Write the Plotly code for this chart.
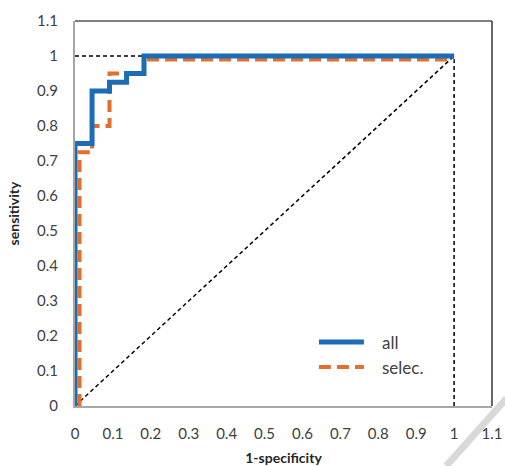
import plotly.graph_objects as go

# ROC curve data (1-specificity, sensitivity)
all_x = [0, 0, 0.045, 0.045, 0.091, 0.091, 0.136, 0.136, 0.182, 0.182, 1.0]
all_y = [0, 0.75, 0.75, 0.90, 0.90, 0.925, 0.925, 0.95, 0.95, 1.0, 1.0]

selec_x = [0.012, 0.012, 0.045, 0.045, 0.091, 0.091, 0.182, 0.182, 1.0]
selec_y = [0, 0.725, 0.725, 0.80, 0.80, 0.95, 0.95, 0.99, 0.99]

# reference lines
diag_x = [0, 1]
diag_y = [0, 1]
top_ref_x = [0, 1]
top_ref_y = [1, 1]
right_ref_x = [1, 1]
right_ref_y = [0, 1]

tick_vals = [round(i * 0.1, 1) for i in range(12)]
tick_text = ["0", "0.1", "0.2", "0.3", "0.4", "0.5", "0.6", "0.7", "0.8", "0.9", "1", "1.1"]

fig = go.Figure()

for rx, ry in [(diag_x, diag_y), (top_ref_x, top_ref_y), (right_ref_x, right_ref_y)]:
    fig.add_trace(go.Scatter(x=rx, y=ry, mode="lines", showlegend=False,
                             line=dict(color="black", width=1.5, dash="4px,3px"),
                             hoverinfo="skip"))

fig.add_trace(go.Scatter(x=selec_x, y=selec_y, mode="lines", name="\u00a0\u00a0\u00a0selec.",
                         line=dict(color="#e2702b", width=4, dash="12px,6px")))
fig.add_trace(go.Scatter(x=all_x, y=all_y, mode="lines", name="\u00a0\u00a0\u00a0all",
                         line=dict(color="#1d6db6", width=5)))

font_family = "Lato, 'Open Sans', sans-serif"

fig.update_layout(
    width=505, height=466,
    margin=dict(l=75, r=13, t=21, b=60, autoexpand=False),
    paper_bgcolor="white", plot_bgcolor="white",
    font=dict(family=font_family, size=15, color="#404040"),
    legend=dict(x=0.573, y=0.212, xanchor="left", yanchor="top",
                traceorder="reversed", bgcolor="rgba(0,0,0,0)",
                font=dict(size=17, color="#404040"), itemwidth=45),
    xaxis=dict(range=[0, 1.1], tickvals=tick_vals, ticktext=tick_text,
               showgrid=False, zeroline=False, showline=True, automargin=False,
               linecolor="#a6a6a6", linewidth=2, ticks="",
               ticklabelstandoff=13,
               title=dict(text="<b>1-specificity</b>", font=dict(size=14, color="#262626"),
                          standoff=19)),
    yaxis=dict(range=[0, 1.1], tickvals=tick_vals, ticktext=tick_text,
               showgrid=False, zeroline=False, showline=True, automargin=False,
               linecolor="#a6a6a6", linewidth=2, ticks="",
               ticklabelstandoff=12,
               title=dict(text="<b>sensitivity</b>", font=dict(size=14, color="#262626"),
                          standoff=14)),
    shapes=[
        dict(type="line", xref="paper", yref="paper", x0=0, x1=1, y0=1, y1=1,
             line=dict(color="black", width=1.2)),
        dict(type="line", xref="paper", yref="paper", x0=1, x1=1, y0=0, y1=1,
             line=dict(color="black", width=1.2)),
        dict(type="line", xref="paper", yref="paper", x0=0.89, y0=-0.156, x1=1.035, y1=0.02,
             line=dict(color="#d9d9d9", width=7), layer="above"),
    ],
)

fig.write_html("out.html", config={"displayModeBar": False},
               post_script="document.body.style.margin='0';")
